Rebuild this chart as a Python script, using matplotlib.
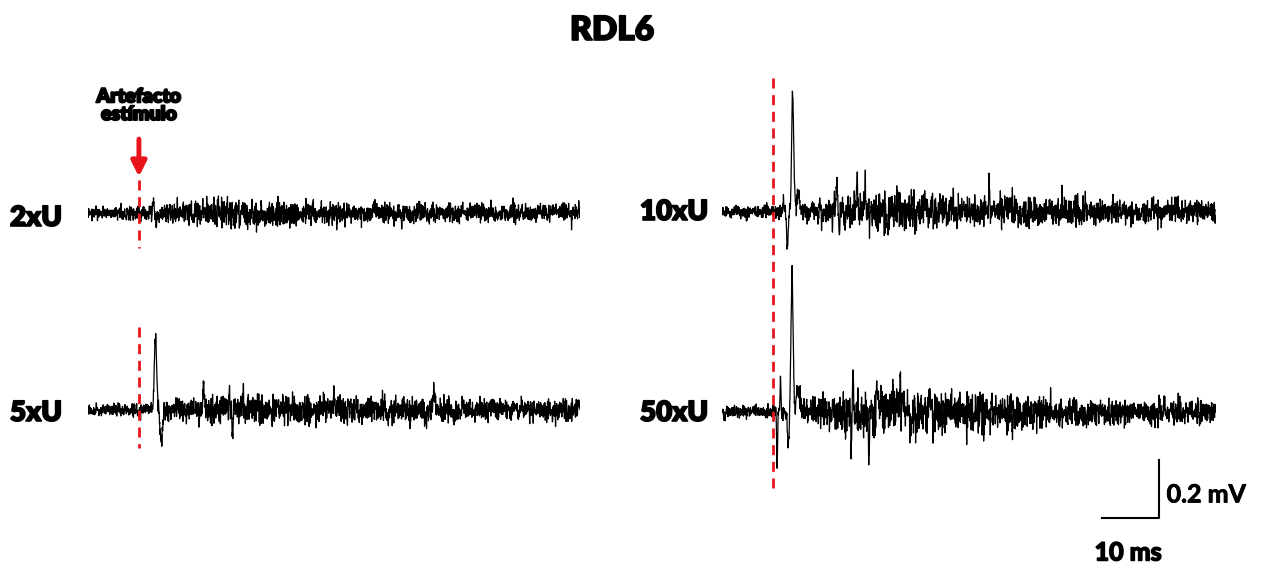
import numpy as np
import matplotlib
matplotlib.use("Agg")
import matplotlib.pyplot as plt
import matplotlib.patheffects as pe

plt.rcParams["font.family"] = ["Lato", "DejaVu Sans"]

FS = 40.0          # samples per ms
DUR = 86.0         # ms per sweep
STIM_T = 8.9       # stimulus artefact time (ms)

# noise envelope (half band, mV) sampled every 5 ms
ENV_T = np.arange(0, 90, 5)
ENV_2XU = [0.017, 0.017, 0.02, 0.03, 0.034, 0.04, 0.038, 0.034, 0.031,
           0.031, 0.028, 0.028, 0.028, 0.024, 0.028, 0.024, 0.024, 0.024]
ENV_5XU = [0.017, 0.017, 0.02, 0.028, 0.034, 0.04, 0.042, 0.04, 0.04,
           0.038, 0.036, 0.034, 0.034, 0.032, 0.032, 0.03, 0.03, 0.03]
ENV_10XU = [0.017, 0.017, 0.02, 0.03, 0.04, 0.048, 0.05, 0.05, 0.048,
            0.045, 0.042, 0.04, 0.038, 0.035, 0.034, 0.032, 0.032, 0.032]
ENV_50XU = [0.017, 0.017, 0.02, 0.035, 0.05, 0.06, 0.065, 0.065, 0.06,
            0.055, 0.05, 0.045, 0.04, 0.036, 0.034, 0.034, 0.034, 0.034]

# discrete deflections: time (ms), amplitude (mV), width (ms)
SPK_2XU_T = [11.4, 11.9, 20.0, 27.0]
SPK_2XU_A = [0.055, -0.05, 0.035, 0.04]
SPK_2XU_W = [0.12, 0.12, 0.08, 0.08]

SPK_5XU_T = [11.8, 12.8, 20.2, 24.7, 25.3, 27.1, 34.7, 43.0, 60.5]
SPK_5XU_A = [0.25, -0.10, 0.08, 0.07, -0.11, 0.07, 0.07, 0.075, 0.072]
SPK_5XU_W = [0.2, 0.2, 0.08, 0.08, 0.08, 0.08, 0.08, 0.08, 0.08]

SPK_10XU_T = [10.7, 11.4, 12.3, 13.2, 20.0, 20.4, 23.5, 24.9, 46.5]
SPK_10XU_A = [0.03, -0.12, 0.41, 0.05, 0.13, -0.08, 0.12, 0.10, 0.08]
SPK_10XU_W = [0.08, 0.15, 0.18, 0.3, 0.08, 0.08, 0.08, 0.08, 0.08]

SPK_50XU_T = [9.6, 10.2, 11.5, 12.2, 13.3, 22.5, 22.8, 25.6, 27.0, 31.0]
SPK_50XU_A = [-0.20, 0.13, -0.11, 0.48, 0.06, -0.13, 0.15, -0.165, 0.12, 0.09]
SPK_50XU_W = [0.08, 0.08, 0.15, 0.18, 0.3, 0.08, 0.08, 0.08, 0.08, 0.08]

# vertical offsets of the lower sweep in each column (mV)
OFFSET_LEFT = -0.679
OFFSET_RIGHT = -0.693


def make_sweep(env, spk_t, spk_a, spk_w, seed):
    rng = np.random.default_rng(seed)
    t = np.arange(0, DUR, 1.0 / FS)
    band = np.interp(t, ENV_T, env)
    n = rng.standard_normal(len(t))
    n = np.convolve(n, [0.25, 0.5, 0.25], mode="same")
    n /= n.std()
    y = n * band / 1.7
    for tc, a, w in zip(spk_t, spk_a, spk_w):
        y += a * np.exp(-0.5 * ((t - tc) / w) ** 2)
    return t, y


fig = plt.figure(figsize=(12.7, 5.7), dpi=100)
W, H = 1270.0, 570.0
ax_l = fig.add_axes([88 / W, 38 / H, 492 / W, 464 / H])
ax_r = fig.add_axes([722 / W, 40 / H, 494 / W, 464 / H])
for ax in (ax_l, ax_r):
    ax.set_xlim(0, DUR)
    ax.set_ylim(-1.1, 0.5)
    ax.axis("off")

trace_kw = dict(color="black", lw=0.9)
t, y = make_sweep(ENV_2XU, SPK_2XU_T, SPK_2XU_A, SPK_2XU_W, 2)
ax_l.plot(t, y, **trace_kw)
t, y = make_sweep(ENV_5XU, SPK_5XU_T, SPK_5XU_A, SPK_5XU_W, 5)
ax_l.plot(t, y + OFFSET_LEFT, **trace_kw)
t, y = make_sweep(ENV_10XU, SPK_10XU_T, SPK_10XU_A, SPK_10XU_W, 10)
ax_r.plot(t, y, **trace_kw)
t, y = make_sweep(ENV_50XU, SPK_50XU_T, SPK_50XU_A, SPK_50XU_W, 50)
ax_r.plot(t, y + OFFSET_RIGHT, **trace_kw)

# stimulus markers
red = "#e8151b"
dash_kw = dict(color=red, lw=2.0, dashes=(3.6, 2.4), zorder=3)
ax_l.plot([STIM_T, STIM_T], [0.114, -0.12], **dash_kw)
ax_l.plot([STIM_T, STIM_T], [-0.393, -0.81], **dash_kw)
ax_r.plot([STIM_T, STIM_T], [0.459, -0.962], **dash_kw)

ax_l.annotate("", xy=(STIM_T, 0.125), xytext=(STIM_T, 0.255),
              arrowprops=dict(arrowstyle="-|>,head_width=0.45,head_length=0.9",
                              color=red, lw=3.5, shrinkA=0, shrinkB=0))

# thicker strokes for the heavy lettering
heavy = [pe.withStroke(linewidth=1.2, foreground="black")]
ax_l.text(STIM_T, 0.37, "Artefacto\nestímulo", ha="center", va="center",
          fontsize=14, fontweight="heavy", linespacing=1.05,
          path_effects=[pe.withStroke(linewidth=1.4, foreground="black")])

# sweep labels
lab_kw = dict(fontsize=20, fontweight="heavy", va="center", ha="left",
              path_effects=heavy)
fig.text(10 / W, 1 - 218 / H, "2xU", **lab_kw)
fig.text(10 / W, 1 - 413 / H, "5xU", **lab_kw)
fig.text(640 / W, 1 - 212 / H, "10xU", **lab_kw)
fig.text(640 / W, 1 - 413 / H, "50xU", **lab_kw)

fig.text(612 / W, 1 - 30 / H, "RDL6", fontsize=24, fontweight="heavy",
         ha="center", va="center", path_effects=heavy)

# scale bar: 10 ms x 0.2 mV
sb_x, sb_y = 66.1, -1.059
ax_r.plot([sb_x, sb_x + 10, sb_x + 10], [sb_y, sb_y, sb_y + 0.2],
          color="black", lw=1.5, clip_on=False)
ax_r.text(sb_x + 11.3, sb_y + 0.08, "0.2 mV", fontsize=18,
          fontweight="bold", va="center", ha="left",
          path_effects=[pe.withStroke(linewidth=0.6, foreground="black")])
ax_r.text(sb_x + 4.6, sb_y - 0.12, "10 ms", fontsize=18,
          fontweight="bold", va="center", ha="center", path_effects=heavy)

fig.savefig("out.png", dpi=100)
